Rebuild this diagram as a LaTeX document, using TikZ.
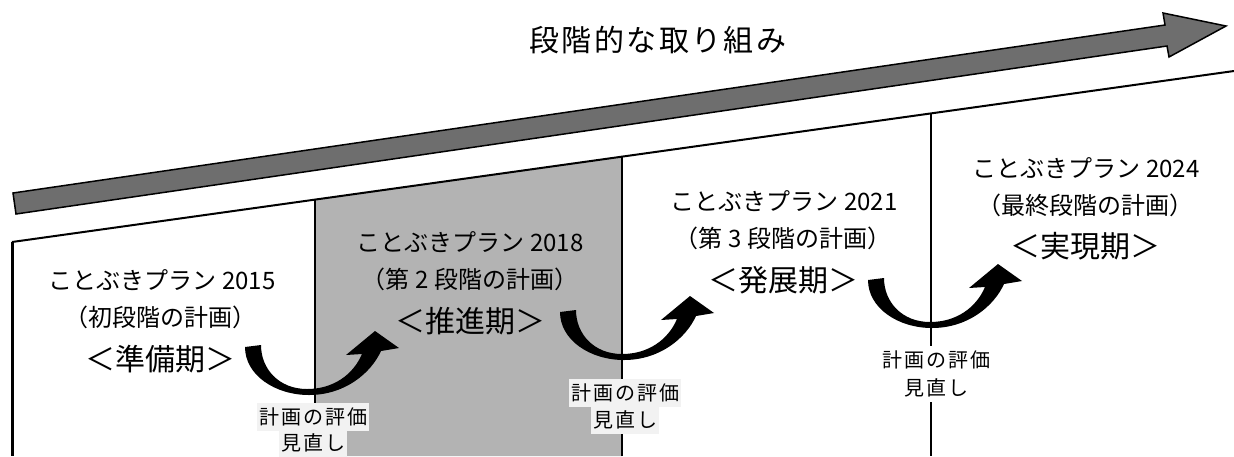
\documentclass[tikz,border=0pt]{standalone}
\usepackage{fontspec}
\usepackage{tikz}
\usepackage{color}
\newfontfamily\jp{Noto Sans CJK JP}
\newfontfamily\jptitle[LetterSpace=8]{Noto Sans CJK JP}
\newfontfamily\jptag[LetterSpace=10]{Noto Sans CJK JP}
\definecolor{bandgray}{RGB}{110,110,110}
\definecolor{stagegray}{RGB}{179,179,179}
\definecolor{tagbg}{RGB}{242,242,242}
\tikzset{
  plan/.style={font=\jp\fontsize{12}{14}\selectfont, inner sep=0pt},
  period/.style={font=\jp\fontsize{15}{17}\selectfont, inner sep=0pt},
  tag/.style={font=\jptag\fontsize{10}{11}\selectfont, inner xsep=1pt, inner ysep=0pt, minimum height=14pt},
  turnarrow/.pic={
    \fill[black] (-62,-48) .. controls (-62,-20) and (-32,0) .. (2,0)
      .. controls (38,0) and (64,-22) .. (74,-44) -- (92,-47) -- (68,-64)
      -- (39,-40) -- (55,-41) .. controls (46,-20) and (26,-6) .. (0,-6)
      .. controls (-28,-6) and (-46,-26) .. (-46,-50) -- cycle;
  }
}

\begin{document}
\begin{tikzpicture}[x=0.5pt,y=-0.5pt]
\useasboundingbox (0,0) rectangle (1234,456);
\fill[stagegray] (315,200)--(622,157)--(622,456)--(315,456)--cycle;
\draw[fill=bandgray, line width=0.75pt, line join=miter] (13,193)--(1165,25)--(1163,13)--(1226,26)--(1169,57)--(1167,46)--(16,214)--cycle;
\node[font=\jptitle\fontsize{15}{17}\selectfont, inner sep=0pt] (title) at (658,40) {段階的な取り組み};
\coordinate (b0) at (12,242);
\coordinate (b1) at (315,200);
\coordinate (b2) at (622,157);
\coordinate (b3) at (931,114);
\coordinate (b4) at (1234,71);
\draw[line width=1pt] (b0)--(b4);
\draw[line width=1.5pt] (b0)--(12,456);
\draw[line width=1pt] (b1)--(315,456);
\draw[line width=1pt] (b2)--(622,456);
\draw[line width=1pt] (b3)--(931,456);
% stages
\node[plan] (planA) at (162,280) {ことぶきプラン 2015};
\node[plan] (stepA) at (160,317) {（初段階の計画）};
\node[period] (periodA) at (160,359) {＜準備期＞};
\node[plan] (planB) at (470,242) {ことぶきプラン 2018};
\node[plan] (stepB) at (470,279) {（第 2 段階の計画）};
\node[period] (periodB) at (470,321) {＜推進期＞};
\node[plan] (planC) at (784,201) {ことぶきプラン 2021};
\node[plan] (stepC) at (783,238) {（第 3 段階の計画）};
\node[period] (periodC) at (783,280) {＜発展期＞};
\node[plan] (planD) at (1086,168) {ことぶきプラン 2024};
\node[plan] (stepD) at (1085,205) {（最終段階の計画）};
\node[period] (periodD) at (1085,246) {＜実現期＞};
% turns
\pic at (307,395) {turnarrow};
\pic at (622,360) {turnarrow};
\pic at (930,328) {turnarrow};
\node[tag, fill=tagbg] (evalA) at (313,417) {計画の評価};
\node[tag, fill=tagbg] (reviseA) at (313,443) {見直し};
\node[tag, fill=tagbg] (evalB) at (625,393) {計画の評価};
\node[tag, fill=tagbg] (reviseB) at (625,420) {見直し};
\node[tag, fill=white] (evalC) at (936,360) {計画の評価};
\node[tag, fill=white] (reviseC) at (936,388) {見直し};
\end{tikzpicture}
\end{document}
